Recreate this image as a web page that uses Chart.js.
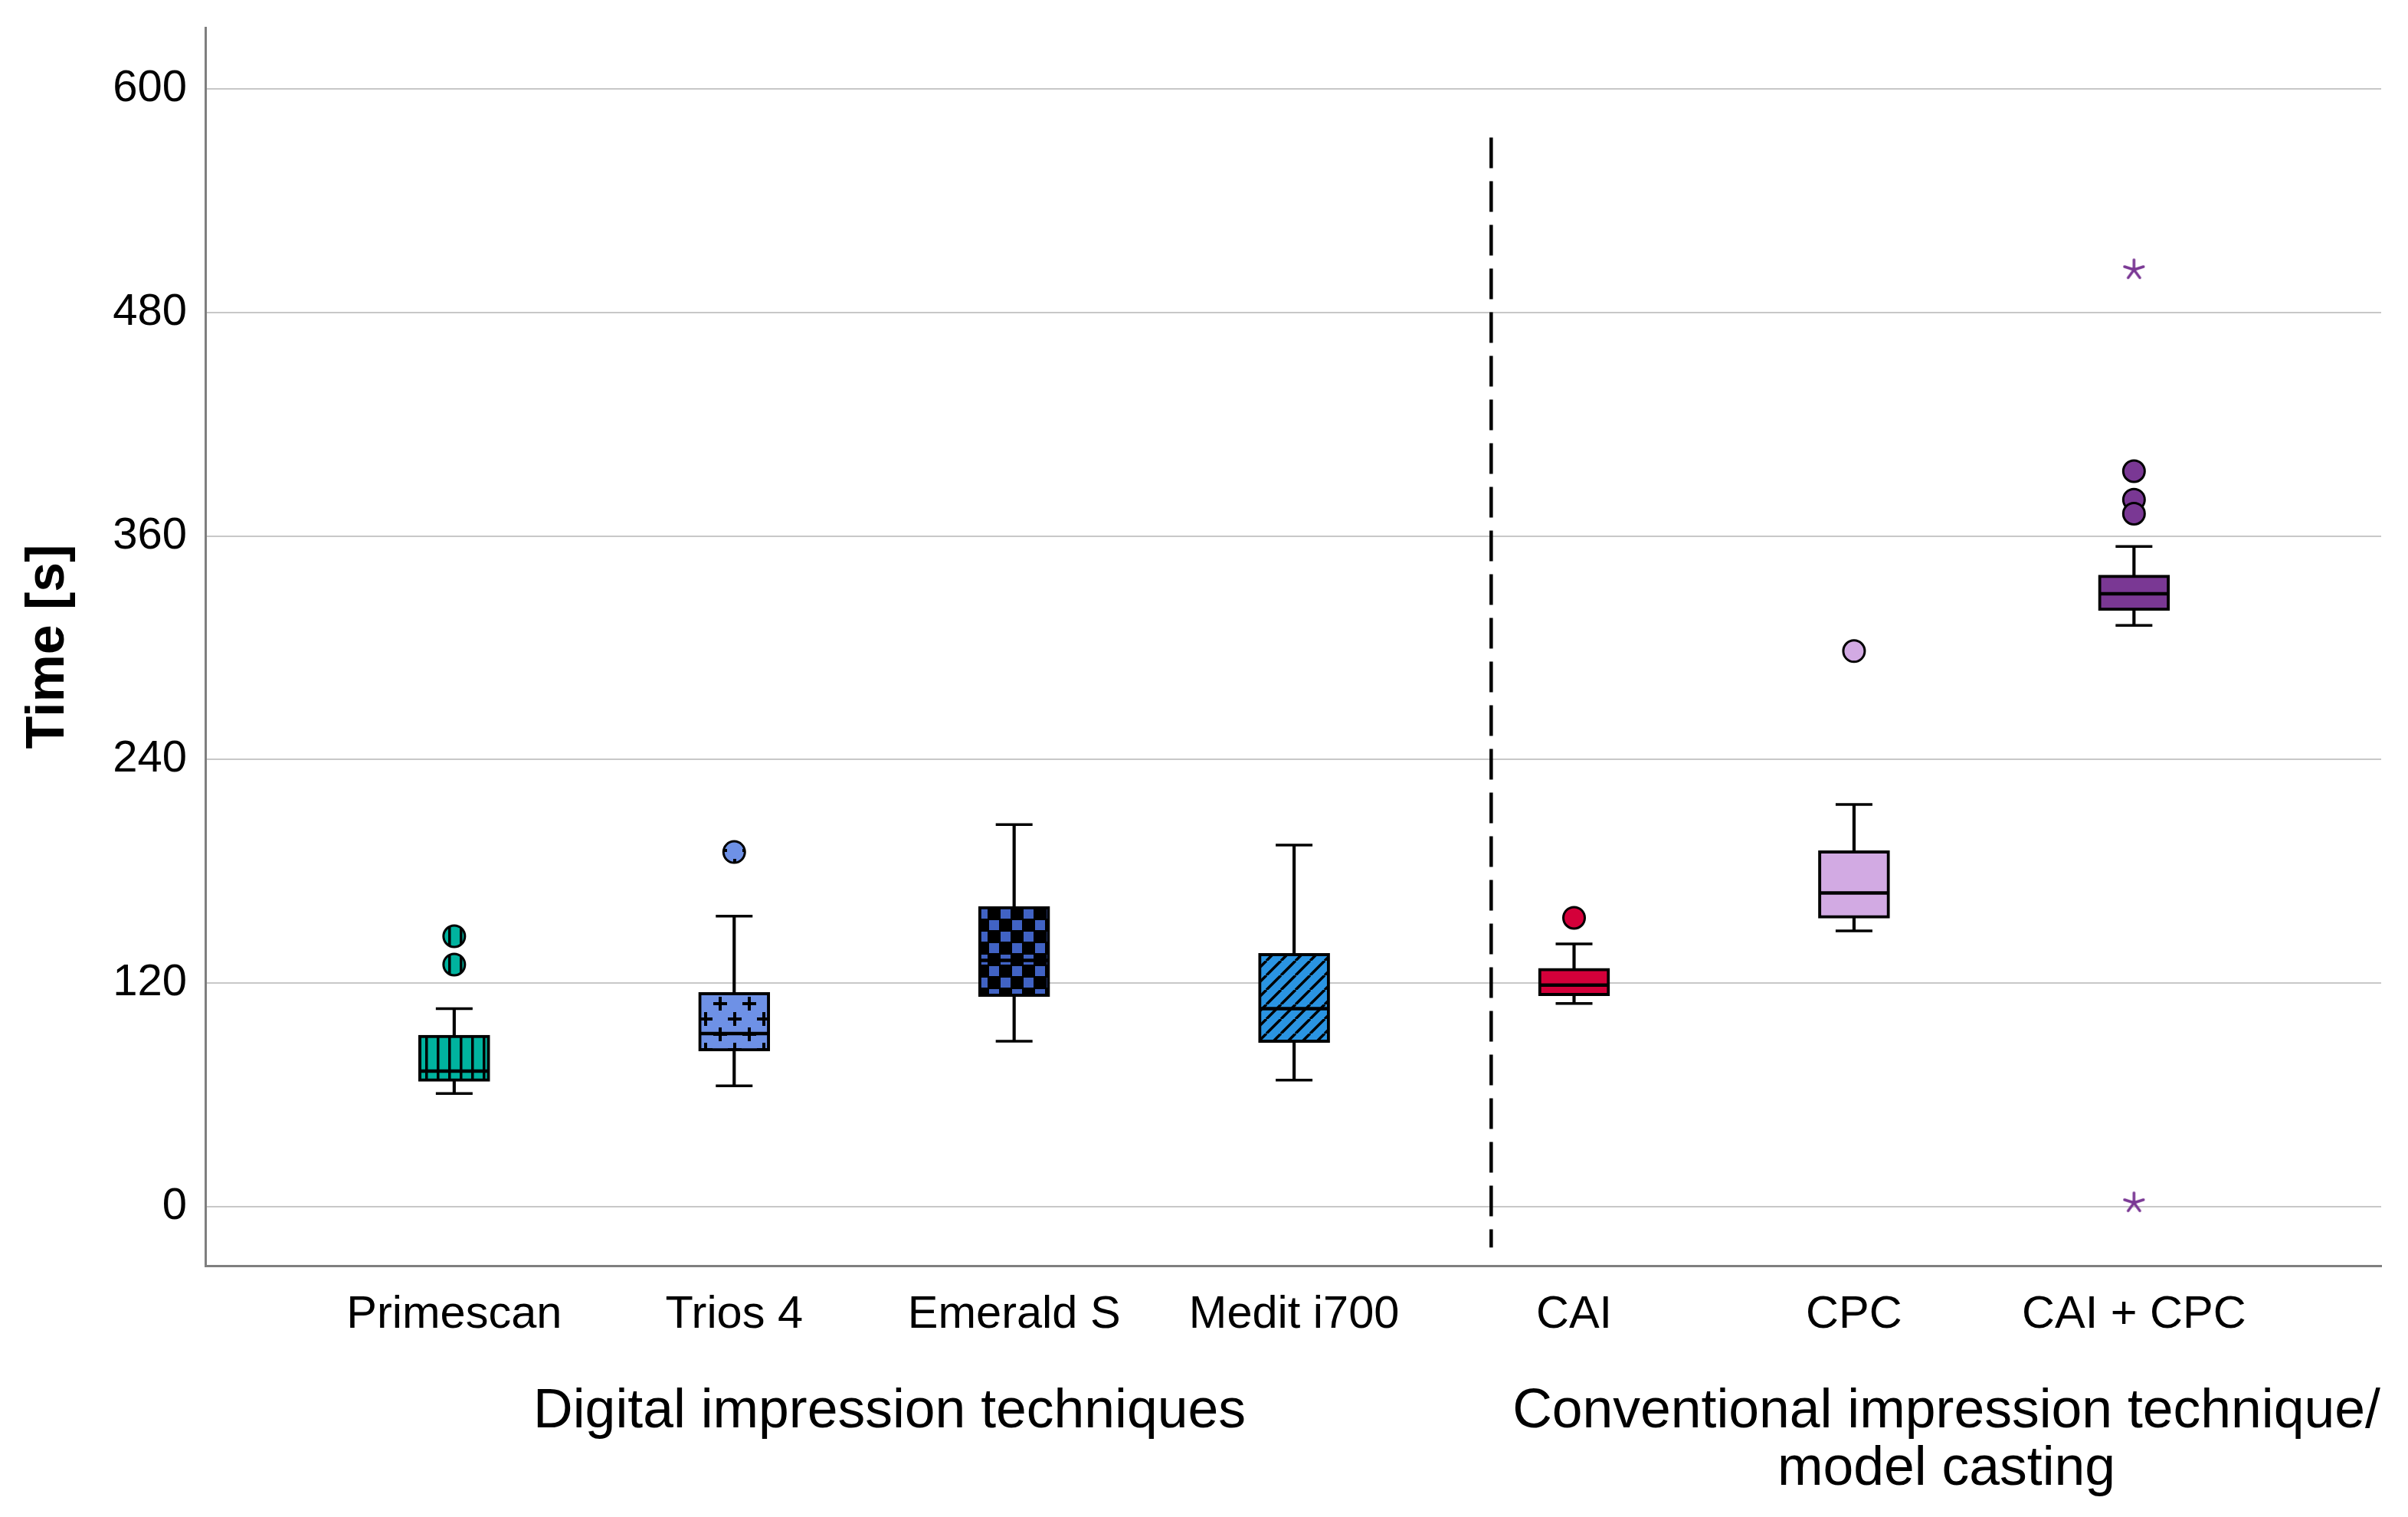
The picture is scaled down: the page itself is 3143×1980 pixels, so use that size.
<!DOCTYPE html>
<html>
<head>
<meta charset="utf-8">
<script src="https://cdn.jsdelivr.net/npm/chart.js@4.4.1/dist/chart.umd.min.js"></script>
<style>
  html, body { margin: 0; padding: 0; background: #fff; overflow: hidden; }
  canvas { display: block; }
</style>
</head>
<body>
<canvas id="chart" width="3143" height="1980"></canvas>
<script>
// values (seconds)
const categories = ['Primescan', 'Trios 4', 'Emerald S', 'Medit i700', 'CAI', 'CPC', 'CAI + CPC'];
const whiskerLow = [60.7, 64.8, 88.7, 67.9, 109, 148, 312];
const q1 = [67.2, 83.4, 112.7, 88.1, 113.1, 154.8, 320];
const median = [72.7, 92.8, 132.1, 106.2, 118.9, 168.3, 329];
const q3 = [92, 114.9, 161.1, 135.9, 127.9, 191, 339];
const whiskerHigh = [106.2, 155.9, 205.1, 194.1, 141, 215.9, 354.4];
const outliers = [[145.1, 129.9], [190.3], [], [], [155], [298.2], [394.8, 379.5, 372]];
const extremes = [[], [], [], [], [], [], [503, 2]];
const yTicks = [0, 120, 240, 360, 480, 600];
const groupLabels = ['Digital impression techniques', ['Conventional impression technique/', 'model casting']];

const FONT = "'Liberation Sans', Arial, sans-serif";

// fill patterns like the SPSS output
const makePattern = (w, h, draw) => {
  const c = document.createElement('canvas');
  c.width = w; c.height = h;
  const ctx = c.getContext('2d');
  draw(ctx, w, h);
  return ctx.createPattern(c, 'repeat');
};

const primePat = makePattern(15, 15, (ctx, w, h) => {
  ctx.fillStyle = '#00b39f'; ctx.fillRect(0, 0, w, h);
  ctx.fillStyle = '#000'; ctx.fillRect(0, 0, 3.5, h);
});
const triosPat = makePattern(38, 40, (ctx, w, h) => {
  ctx.fillStyle = '#6e91e6'; ctx.fillRect(0, 0, w, h);
  ctx.fillStyle = '#000';
  [[9, 10], [28, 30]].forEach(([cx, cy]) => {
    ctx.fillRect(cx - 9, cy - 2, 18, 4);
    ctx.fillRect(cx - 2, cy - 9, 4, 18);
  });
});
const emeraldPat = makePattern(30, 30, (ctx, w, h) => {
  ctx.fillStyle = '#000'; ctx.fillRect(0, 0, w, h);
  ctx.fillStyle = '#4163c4';
  ctx.fillRect(1, 1, 13, 13);
  ctx.fillRect(16, 16, 13, 13);
});
const meditPat = makePattern(19, 19, (ctx, w, h) => {
  ctx.fillStyle = '#2a94e2'; ctx.fillRect(0, 0, w, h);
  ctx.strokeStyle = '#000'; ctx.lineWidth = 3.5;
  ctx.beginPath();
  for (let k = -1; k <= 1; k++) {
    ctx.moveTo(k * w, h);
    ctx.lineTo(k * w + w, 0);
  }
  ctx.stroke();
});

const fills = [primePat, triosPat, emeraldPat, meditPat, '#d4003a', '#d2aae3', '#7a3894'];

// five-armed asterisk for extreme values
const starImg = document.createElement('canvas');
starImg.width = 34; starImg.height = 34;
(() => {
  const ctx = starImg.getContext('2d');
  ctx.strokeStyle = '#7a3894'; ctx.lineWidth = 3.5; ctx.lineCap = 'round';
  ctx.beginPath();
  for (let k = 0; k < 5; k++) {
    const a = -Math.PI / 2 + k * 2 * Math.PI / 5;
    ctx.moveTo(17, 17);
    ctx.lineTo(17 + Math.cos(a) * 13, 17 + Math.sin(a) * 13);
  }
  ctx.stroke();
})();

const xMin = 0.111, xMax = 7.883;

const outlierPts = [], outlierFill = [], extremePts = [];
outliers.forEach((list, i) => list.forEach(v => { outlierPts.push({ x: i + 1, y: v }); outlierFill.push(fills[i]); }));
extremes.forEach((list, i) => list.forEach(v => extremePts.push({ x: i + 1, y: v })));

// no extra room for labels at the axis ends
const noEdgePadding = (axis) => {
  axis.paddingTop = 0; axis.paddingBottom = 0;
  axis.paddingLeft = 0; axis.paddingRight = 0;
};

new Chart(document.getElementById('chart'), {
  type: 'bar',
  data: {
    datasets: [
      {
        type: 'bar', label: 'whiskers',
        data: categories.map((c, i) => ({ x: i + 1, y: [whiskerLow[i], whiskerHigh[i]] })),
        backgroundColor: '#000', borderWidth: 0, barThickness: 3.5, grouped: false, order: 6
      },
      {
        type: 'bar', label: 'boxes',
        data: categories.map((c, i) => ({ x: i + 1, y: [q1[i], q3[i]] })),
        backgroundColor: fills, borderColor: '#000', borderWidth: 4, borderSkipped: false,
        barThickness: 93, grouped: false, order: 5
      },
      {
        type: 'scatter', label: 'caps',
        data: categories.map((c, i) => ({ x: i + 1, y: whiskerLow[i] }))
          .concat(categories.map((c, i) => ({ x: i + 1, y: whiskerHigh[i] }))),
        pointStyle: 'line', pointRadius: 24, pointBorderWidth: 3.5, pointBorderColor: '#000', order: 4
      },
      {
        type: 'scatter', label: 'medians',
        data: categories.map((c, i) => ({ x: i + 1, y: median[i] })),
        pointStyle: 'line', pointRadius: 45, pointBorderWidth: 4.5, pointBorderColor: '#000', order: 3
      },
      {
        type: 'scatter', label: 'outliers', data: outlierPts,
        pointStyle: 'circle', pointRadius: 14, pointBorderWidth: 3,
        pointBorderColor: '#000', pointBackgroundColor: outlierFill, order: 2
      },
      {
        type: 'scatter', label: 'extremes', data: extremePts,
        pointStyle: starImg, pointRadius: 13, order: 1
      },
      {
        type: 'line', label: 'divider',
        data: [{ x: 4.704, y: 574 }, { x: 4.704, y: -22 }],
        borderColor: '#000', borderWidth: 4.5, borderDash: [40, 17], pointRadius: 0, order: 0
      }
    ]
  },
  options: {
    responsive: false,
    devicePixelRatio: 1,
    animation: false,
    layout: { autoPadding: false, padding: { top: 36, right: 35, left: 0, bottom: 0 } },
    plugins: { legend: { display: false }, tooltip: { enabled: false } },
    scales: {
      x: {
        type: 'linear', position: 'bottom', min: xMin, max: xMax, offset: false, weight: 0,
        grid: { display: false, drawTicks: false },
        border: { display: true, color: '#7f7f7f', width: 3 },
        afterBuildTicks: (axis) => { axis.ticks = categories.map((c, i) => ({ value: i + 1 })); },
        afterFit: (axis) => { axis.height = 128; noEdgePadding(axis); },
        ticks: {
          autoSkip: false, maxRotation: 0, minRotation: 0, padding: 29, color: '#000',
          font: { family: FONT, size: 59.5 },
          callback: (v) => categories[v - 1]
        }
      },
      x2: {
        type: 'linear', position: 'bottom', min: xMin, max: xMax, offset: false, weight: 1,
        grid: { display: false, drawTicks: false },
        border: { display: false },
        afterBuildTicks: (axis) => { axis.ticks = [{ value: 2.555 }, { value: 6.33 }]; },
        afterFit: (axis) => { axis.height = 200; noEdgePadding(axis); },
        ticks: {
          autoSkip: false, maxRotation: 0, minRotation: 0, padding: 26, color: '#000',
          font: { family: FONT, size: 71.5, lineHeight: 1.05 },
          callback: (v, i) => groupLabels[i]
        }
      },
      y: {
        type: 'linear', min: -31.8, max: 633,
        afterBuildTicks: (axis) => { axis.ticks = yTicks.map(v => ({ value: v })); },
        afterFit: (axis) => { axis.width = 268; noEdgePadding(axis); },
        grid: { color: '#c8c8c8', lineWidth: 2, drawTicks: false },
        border: { color: '#7f7f7f', width: 3 },
        ticks: { padding: 24, color: '#000', font: { family: FONT, size: 58 } },
        title: {
          display: true, text: 'Time [s]', color: '#000',
          font: { family: FONT, size: 70, weight: 'bold' },
          padding: { top: 22, bottom: 0 }
        }
      }
    }
  }
});
</script>
</body>
</html>
